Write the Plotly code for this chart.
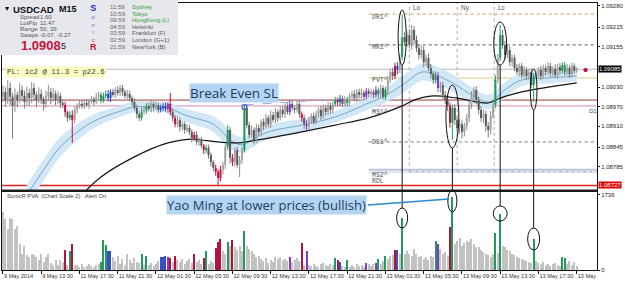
import plotly.graph_objects as go

# ---------------- data (prices in 1e-5 units = points) ----------------
first_open_pts = 109000
close_pts = [
    109015,108990,109027,109000,108972,109006,108990,109021,109003,108984,109012,108996,109027,109006,108990,109009,108993,108978,109003,109015,108996,109009,108990,109003,108981,
    108975,108953,108935,108944,108929,108960,108972,108978,
    108972,108981,108975,108987,108993,108984,109000,109006,108990,109003,
    109009,108996,109015,109006,109021,109012,109027,109015,109003,109009,
    108996,108984,108966,108947,108935,108953,
    108960,108972,108963,108978,108969,108975,108960,108966,
    108972,108963,108978,108953,
    108935,108916,108929,108907,108916,108898,108904,108892,108873,108883,108861,108867,108849,108836,108843,
    108821,108799,108781,108769,108750,108775,108790,108846,108898,108812,108799,108836,108790,108806,
    108836,108966,
    108913,108883,108898,108867,108904,108892,108923,
    108910,108935,108916,108944,108929,108953,108935,108960,108947,108972,108953,108978,
    108966,108960,108978,108947,
    108935,108916,108910,108929,108941,108923,
    108947,108960,108941,108966,108953,108972,108960,108978,108990,108984,
    108996,108978,108990,108981,
    109003,109009,108996,109015,109006,109012,109000,109018,109009,
    109015,109006,109021,109009,109027,109000,109021,
    109052,109076,109064,109095,109083,109123,
    109184,
    109169,109190,109160,109206,109175,
    109150,109129,109144,109107,109120,109089,
    109070,109052,109064,109027,109036,
    109006,108990,108972,
    108920,108966,
    108929,108904,108916,108892,108910,108935,
    108975,109003,109021,108990,
    108960,108935,108947,108910,108898,
    108944,108975,109052,
    109120,109190,
    109160,109129,109144,109107,109120,
    109089,109076,109095,109067,109083,109064,109076,109036,
    109064,
    109070,109083,109064,109089,109076,109095,109073,109086,109067,109092,109080,109098,109076,109089,109070,109095,109080,109085,
]
upper_wick_pts = [
    20,15,25,18,12,20,10,22,14,16,20,12,18,15,10,20,14,8,16,22,12,18,10,14,9,
    8,10,6,12,14,10,8,12,
    10,8,12,6,10,8,12,10,8,10,
    10,12,8,10,9,12,9,10,8,12,
    10,8,12,10,8,14,
    12,8,10,12,8,10,6,10,
    8,10,6,34,
    10,8,12,6,10,8,12,10,8,10,12,8,10,6,10,
    10,8,6,10,8,12,10,8,15,10,12,8,10,12,
    10,9,
    12,10,14,8,12,10,8,
    10,12,8,14,10,12,8,10,12,8,10,12,
    10,8,12,8,
    8,10,12,10,8,10,
    10,8,12,10,8,12,10,8,10,8,
    10,8,12,10,
    8,10,12,8,10,12,8,10,8,
    10,8,12,8,10,8,10,
    12,10,14,10,12,8,
    68,
    15,12,18,15,12,
    14,12,16,12,10,14,
    12,10,14,12,10,
    10,12,8,
    10,10,
    12,10,14,12,10,12,
    12,14,10,12,
    10,12,14,10,12,
    12,10,14,
    12,31,
    16,12,14,12,10,
    10,12,8,10,12,8,10,12,
    8,
    10,8,12,10,8,12,10,8,14,10,12,8,10,12,8,10,8,6,
]
lower_wick_pts = [
    15,20,12,25,100,18,22,10,16,20,12,25,15,18,22,10,15,20,12,14,18,10,16,12,15,
    10,14,12,8,71,10,12,8,
    8,10,6,12,8,10,6,8,10,8,
    8,10,12,6,10,8,10,12,8,10,
    10,12,8,14,10,8,
    8,12,6,10,12,8,10,8,
    10,8,12,10,
    12,10,8,14,10,12,8,10,14,8,10,12,8,12,10,
    12,14,10,12,21,10,14,12,10,18,12,14,10,37,
    12,8,
    10,12,8,14,10,12,10,
    12,8,10,12,8,10,12,8,10,12,8,10,
    8,10,8,12,
    12,14,18,10,12,8,
    8,10,12,8,10,8,12,10,8,12,
    12,10,8,10,
    10,8,10,12,8,10,12,8,10,
    8,10,8,12,10,8,10,
    14,10,12,10,14,10,
    10,
    12,15,10,14,12,
    12,14,10,16,12,10,
    14,12,10,12,14,
    14,12,16,
    15,53,
    16,14,18,20,14,12,
    14,12,16,12,
    14,12,16,18,23,
    14,12,10,
    10,10,
    12,14,10,12,14,
    10,8,12,10,8,12,10,8,
    52,
    8,10,12,8,10,8,12,10,8,10,12,8,10,8,12,10,8,6,
]
volume = [
    1350,1170,945,1190,1170,945,1010,610,380,560,340,290,380,340,290,225,380,180,290,380,160,110,225,110,225,180,470,110,450,610,110,
    120,80,130,60,100,140,90,70,110,150,
    180,700,585,430,430,
    290,200,330,150,250,120,380,220,160,270,180,
    160,360,110,315,
    110,160,90,130,200,
    290,290,315,290,270,180,315,
    225,180,250,140,200,260,170,
    360,180,230,150,270,430,
    140,200,160,500,650,720,
    430,380,650,560,700,520,470,560,450,900,
    560,475,430,
    380,290,330,250,200,270,160,220,180,
    290,250,300,220,260,200,290,
    180,230,270,200,630,110,440,
    120,90,140,100,80,130,160,110,90,140,120,
    270,225,180,100,70,225,
    80,120,60,150,90,110,70,
    160,130,90,150,160,250,140,200,315,
    250,330,340,470,460,380,1190,
    360,430,380,330,480,380,300,330,260,300,240,330,290,
    675,600,480,380,420,330,990,1690,
    610,675,745,560,630,675,650,720,610,540,520,470,405,380,340,300,380,
    850,400,1300,
    560,520,470,430,380,340,300,270,250,230,200,180,160,
    720,
    200,160,130,180,110,150,90,130,170,120,100,
    290,270,150,200,120,180,100,
]
pva_green = [28, 41, 42, 43, 58, 60, 85, 94, 101, 139, 144, 157, 160, 167, 181, 188, 206, 208, 222, 234, 235]
pva_red = [26, 29, 70, 72, 80, 84, 89, 90, 91, 96, 125, 140, 164, 187]
pva_blue = [44, 45, 66, 67, 68, 141, 165]
pva_purple = [69, 120, 127, 152, 156, 182]

band_idx = [10,17,24,34,41,48,55,62,69,76,83,87,91,95,100,104,111,125,139,153,159,167,175,179,188,196,203,206,211,217,228,240]
band_mid_pts = [108698,108775,108846,108907,108935,108953,108969,108969,108966,108944,108929,108920,108898,108867,108852,108867,108892,108913,108938,108981,109000,109036,109076,109073,109043,109006,108984,108996,109027,109052,109058,109064]
band_half_pts = [30,30,28,22,18,16,15,15,15,18,20,22,25,25,22,22,20,18,16,18,20,25,25,25,25,22,20,22,22,18,15,15]

ma_idx = [33,41,55,69,80,83,97,111,125,139,153,167,172,180,190,203,208,217,240]
ma_pts = [108698,108753,108815,108858,108870,108867,108858,108873,108892,108913,108935,108972,108990,109003,108996,108981,108996,109015,109043]

x_tick_bars = [0,16,32,48,64,80,96,112,128,144,160,176,192,208,224,240]
x_tick_labels = ["9 May 2014","9 May 13:30","11 May 17:30","11 May 21:30","12 May 01:30","12 May 05:30",
                 "12 May 09:30","12 May 13:30","12 May 17:30","12 May 21:30","13 May 01:30","13 May 05:30",
                 "13 May 09:30","13 May 13:30","13 May 17:30","13 May"]
price_ticks = [1.09280, 1.09215, 1.09155, 1.09030, 1.08970, 1.08910, 1.08845, 1.08785]
bid_price = 1.09085
red_line_price = 1.08727
vol_max_label = 1736

assert len(close_pts) == 241 and len(upper_wick_pts) == 241 and len(lower_wick_pts) == 241 and len(volume) == 241, (
    len(close_pts), len(upper_wick_pts), len(lower_wick_pts), len(volume))

# ---------------- build ----------------
P = 1e-5
N = len(close_pts)
closes = [v * P for v in close_pts]
opens = [first_open_pts * P] + closes[:-1]
highs = [max(o, c) + u * P for o, c, u in zip(opens, closes, upper_wick_pts)]
lows = [min(o, c) - l * P for o, c, l in zip(opens, closes, lower_wick_pts)]
cat = ['grey'] * N
for i in pva_green: cat[i] = 'green'
for i in pva_red: cat[i] = 'red'
for i in pva_blue: cat[i] = 'blue'
for i in pva_purple: cat[i] = 'purple'

X0, X1 = -0.4, 248.5
PR0, PR1 = 1.08713, 1.09289
L, R, T, B = 2, 28, 3, 13
W, H = 625, 283
PW, PH = W - L - R, H - T - B
def pxx(p): return (p - L) / PW
def pxy(p): return (H - B - p) / PH

fig = go.Figure()
FONT = "Liberation Sans"

# dragon band
band_lo = [(m - h) * P for m, h in zip(band_mid_pts, band_half_pts)]
band_hi = [(m + h) * P for m, h in zip(band_mid_pts, band_half_pts)]
fig.add_trace(go.Scatter(x=band_idx, y=band_lo, mode='lines', line=dict(width=0.6, color='#bcdcf2', shape='spline'),
                         hoverinfo='skip', xaxis='x', yaxis='y'))
fig.add_trace(go.Scatter(x=band_idx, y=band_hi, mode='lines', fill='tonexty', fillcolor='#d3e8f7',
                         line=dict(width=0.6, color='#bcdcf2', shape='spline'), hoverinfo='skip', xaxis='x', yaxis='y'))
fig.add_trace(go.Scatter(x=band_idx, y=[m * P for m in band_mid_pts], mode='lines',
                         line=dict(width=0.8, color='#5e94b4', shape='spline'), hoverinfo='skip', xaxis='x', yaxis='y'))
fig.add_trace(go.Scatter(x=ma_idx, y=[m * P for m in ma_pts], mode='lines',
                         line=dict(width=1.2, color='#151515', shape='spline'), hoverinfo='skip', xaxis='x', yaxis='y'))

# candles
styles = {
    'grey_up': ('#8e8e8e', '#a4a4a4'),
    'grey_dn': ('#7c7c7c', '#5a5a5a'),
    'green': ('#1f9a57', '#1f9a57'),
    'red': ('#c4123e', '#c4123e'),
    'blue': ('#2f45c8', '#2f45c8'),
    'purple': ('#8a35d0', '#8a35d0'),
}
for key, (wc, bc) in styles.items():
    wx, wy, bx, by = [], [], [], []
    for i in range(N):
        k = cat[i]
        if k == 'grey':
            k = 'grey_up' if closes[i] >= opens[i] else 'grey_dn'
        if k != key:
            continue
        wx += [i, i, None]; wy += [lows[i], highs[i], None]
        o, c = opens[i], closes[i]
        if abs(c - o) < 3 * P:
            c = o + 3 * P
        bx += [i, i, None]; by += [o, c, None]
    if not wx:
        continue
    fig.add_trace(go.Scatter(x=wx, y=wy, mode='lines', line=dict(color=wc, width=1), hoverinfo='skip', xaxis='x', yaxis='y'))
    fig.add_trace(go.Scatter(x=bx, y=by, mode='lines', line=dict(color=bc, width=2), hoverinfo='skip', xaxis='x', yaxis='y'))

# volume
vol_color_map = {'grey': '#c2c2c2', 'green': '#23995a', 'red': '#b3123f', 'blue': '#3550c8', 'purple': '#8a35d0'}
fig.add_trace(go.Bar(x=list(range(N)), y=volume, marker=dict(color=[vol_color_map[c] for c in cat], line=dict(width=0)),
                     width=0.45, hoverinfo='skip', xaxis='x2', yaxis='y2'))

# ---------------- shapes ----------------
shapes = []
def hline(price, color, width=1.0, dash='solid', x0=0, x1=1, xref='paper'):
    shapes.append(dict(type='line', xref=xref, yref='y', x0=x0, x1=x1, y0=price, y1=price,
                       line=dict(color=color, width=width, dash=dash), layer='below'))

hline(bid_price, '#b4b4b4', 1)
hline(1.08990, '#9a3a3a', 1)
hline(1.08972, '#d888b0', 1)
hline(red_line_price, '#e02424', 1.5)
# pivots
hline(1.09255, '#c99a6a', 1, 'dot', 153, X1, 'x')
hline(1.09160, '#5a5a5a', 1, 'dot', 153, X1, 'x')
hline(1.09058, '#d9cf86', 1.2, 'solid', 153, X1, 'x')
hline(1.08861, '#7a7a7a', 1, 'dot', 153, X1, 'x')
hline(1.08769, '#9a9a9a', 1, 'dot', 170, X1, 'x')
hline(1.08775, '#bcc4dc', 2, 'solid', 153, X1, 'x')
hline(1.08768, '#c8cfe3', 1, 'solid', 153, X1, 'x')
# session verticals
for b in (170, 190, 205.5):
    shapes.append(dict(type='line', xref='x', yref='y', x0=b, x1=b, y0=1.08769, y1=PR1,
                       line=dict(color='#a8a8a8', width=1, dash='dot'), layer='below'))

# info panel background
shapes.append(dict(type='rect', xref='paper', yref='paper', x0=pxx(0), x1=pxx(178), y0=pxy(55), y1=pxy(0),
                   fillcolor='#e7e7ee', line=dict(width=0), layer='above'))
# thicker panel divider
shapes.append(dict(type='line', xref='paper', yref='paper', x0=0, x1=1, y0=pxy(190.5), y1=pxy(190.5),
                   line=dict(color='#222', width=2)))

# ellipses (price) and (volume), connector lines
ell = [
    (165.3, 168.7, 10, 65), (185.3, 190.7, 85, 148), (205.3, 210.7, 22, 65), (220.6, 223.4, 69, 110),
    (164.7, 169.3, 208, 228), (186.1, 189.9, 190, 212), (205.1, 210.9, 206, 221), (219.5, 224.5, 228, 250),
]
for x0, x1, ya, yb in ell:
    shapes.append(dict(type='circle', xref='x', yref='paper', x0=x0, x1=x1, y0=pxy(yb), y1=pxy(ya),
                       line=dict(color='#111111', width=1)))
for b, ya, yb in [(167, 65, 208), (188, 148, 190), (208, 65, 206), (222, 110, 228)]:
    shapes.append(dict(type='line', xref='x', yref='paper', x0=b, x1=b, y0=pxy(yb), y1=pxy(ya),
                       line=dict(color='#111111', width=1)))
# Yao Ming connector
shapes.append(dict(type='line', xref='paper', yref='paper', x0=pxx(368), x1=pxx(449), y0=pxy(205), y1=pxy(199),
                   line=dict(color='#2a8ccc', width=1.5)))
# break-even marker + dashed line
shapes.append(dict(type='line', xref='x', yref='y', x0=101, x1=150, y0=1.08975, y1=1.08998,
                   line=dict(color='#9aa6d8', width=1, dash='dash')))
shapes.append(dict(type='circle', xref='x', yref='paper', x0=100.0, x1=102.0, y0=pxy(109.5), y1=pxy(104.5),
                   line=dict(color='#4a5ad0', width=1.2)))
# red dot
shapes.append(dict(type='circle', xref='x', yref='paper', x0=243.0, x1=244.4, y0=pxy(71.7), y1=pxy(68.3),
                   fillcolor='#c01040', line=dict(color='#c01040', width=1)))

# ---------------- annotations ----------------
ann = []
def txt(x, y, s, size=6.5, color='#404040', bold=False, family=FONT, xanchor='left', yanchor='middle', **kw):
    if bold:
        s = '<b>' + s + '</b>'
    d = dict(xref='paper', yref='paper', x=pxx(x), y=pxy(y), text=s, showarrow=False, xanchor=xanchor,
             yanchor=yanchor, font=dict(size=size, color=color, family=family))
    d.update(kw)
    ann.append(d)

# info box
txt(3, 8.5, '▾', 8, '#111')
txt(11, 9, 'USDCAD', 9.5, '#111', True)
txt(57, 9, 'M15', 9, '#111', True)
for yy, a, b in [(17, 'Spread', '1.60'), (23, 'LotPip', '11.47'), (29, 'Range', '50, 39'), (35, 'Swaps', '-0.07, -0.27')]:
    txt(18, yy, a, 6, '#555')
    txt(38, yy, b, 6, '#555')
txt(19, 45.5, '1.0908', 13, '#c4143c', True)
txt(59, 46.5, '5', 9, '#222')
sonic = ("<span style='font-size:9px;color:#1c2fa8'><b>S</b></span><br>"
         "<span style='color:#4a5cc0'>o</span><br><span style='color:#8a4fb8'>n</span><br>"
         "<span style='color:#c0608a'>i</span><br><span style='color:#d03a50'>c</span><br>"
         "<span style='font-size:9px;color:#c0102a'><b>R</b></span>")
txt(93.5, 27.5, sonic, 6, '#333', xanchor='center', align='center')
for k, (t, name, col) in enumerate([('11:59', 'Sydney', '#2f9f2f'), ('10:59', 'Tokyo', '#2f9f2f'), ('09:59', 'HongKong (L)', '#2f9f2f'),
                                    ('04:59', 'Helsinki', '#555'), ('03:59', 'Frankfurt (F)', '#555'), ('02:59', 'London (G+1)', '#555'),
                                    ('21:59', 'NewYork (B)', '#555')]):
    yy = 7 + k * 6.6
    txt(108, yy, t, 6, '#666')
    txt(130, yy, name, 6, col)

# PL box
txt(5, 72.5, 'PL: 1c2 @ 11.3 = p22.6', 7.4, '#3a3a3a', family='Liberation Mono', bgcolor='#fbfbc2', borderpad=1)
# indicator caption
txt(5, 196, 'SonicR PVA  (Chart Scale 2)   Alert On', 5.8, '#404040')
# pivot labels
for yy, s in [(17, 'DR1^'), (47, 'MR1^'), (80, 'PVT^'), (112, 'MS1^'), (142, 'DS1^'), (175, 'MS2^'), (181, 'RDL')]:
    txt(370, yy, s, 6.5, '#505050', family='Liberation Mono')
for xx, s in [(411, 'Lo'), (459, 'Ny'), (496, 'Lc')]:
    txt(xx, 7.5, s, 6.5, '#505050')
txt(587, 111, 'D1', 6, '#3050a0')
# callouts
txt(234, 92.5, 'Break Even SL', 13.5, '#1d3a66', family='Open Sans', xanchor='center', bgcolor='#b4d5f2', borderpad=0)
txt(266.5, 204.5, 'Yao Ming at lower prices (bullish)', 13, '#1d3a66', family='Open Sans', xanchor='center', bgcolor='#b4d5f2', borderpad=0)
# price boxes
for pr, bg in [(bid_price, '#000000'), (red_line_price, '#e00000')]:
    ann.append(dict(xref='paper', yref='y', x=1, y=pr, xanchor='left', yanchor='middle', xshift=1,
                    text='%.5f' % pr, showarrow=False, bgcolor=bg, borderpad=0,
                    font=dict(size=6, color='white', family=FONT)))

axis_common = dict(showgrid=False, zeroline=False, showline=True, linecolor='#111', linewidth=1, mirror=True, automargin=False)
fig.update_layout(
    width=W, height=H, margin=dict(l=L, r=R, t=T, b=B, autoexpand=False),
    paper_bgcolor='white', plot_bgcolor='white', showlegend=False, bargap=0,
    xaxis=dict(domain=[0, 1], range=[X0, X1], anchor='y', showticklabels=False, ticks='', **axis_common),
    yaxis=dict(domain=[pxy(190), 1], range=[PR0, PR1], side='right', anchor='x', tickvals=price_ticks,
               ticktext=['%.5f' % v for v in price_ticks], ticks='outside', ticklen=2, tickcolor='#111',
               tickfont=dict(size=6, color='#222', family=FONT), **axis_common),
    xaxis2=dict(domain=[0, 1], matches='x', anchor='y2', tickvals=x_tick_bars, ticktext=x_tick_labels,
                ticks='outside', ticklen=3, tickcolor='#111', ticklabelposition='outside right', tickangle=0,
                tickfont=dict(size=5.6, color='#333', family=FONT), **axis_common),
    yaxis2=dict(domain=[0, pxy(192)], range=[0, 1800], side='right', anchor='x2', tickvals=[0, vol_max_label],
                ticktext=['0', str(vol_max_label)], ticks='outside', ticklen=2, tickcolor='#111',
                tickfont=dict(size=6, color='#222', family=FONT), **axis_common),
    shapes=shapes, annotations=ann,
)
fig.write_html("out.html")
